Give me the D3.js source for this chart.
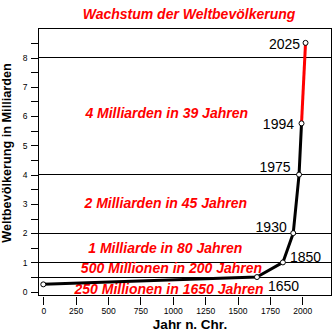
<!DOCTYPE html>
<html>
<head>
<meta charset="utf-8">
<script src="https://cdn.jsdelivr.net/npm/d3@7"></script>
<style>
  html, body { margin: 0; padding: 0; background: #fff; }
  svg { display: block; font-family: "Liberation Sans", Arial, Helvetica, sans-serif; }
</style>
</head>
<body>
<svg id="chart" width="334" height="333"></svg>
<script>
// ---- data ----
const years = [0, 1650, 1850, 1930, 1975, 1994, 2025];
const population = [0.25, 0.5, 1, 2, 4, 5.75, 8.5];
const labelledYears = [1650, 1850, 1930, 1975, 1994, 2025];
const gridValues = [0.5, 1, 2, 4, 8];
const xTicks = [0, 250, 500, 750, 1000, 1250, 1500, 1750, 2000];
const yTicks = [0, 0.5, 1, 1.5, 2, 2.5, 3, 3.5, 4, 4.5, 5, 5.5, 6, 6.5, 7, 7.5, 8, 8.5];
const yTickLabels = ["0", "", "1", "", "2", "", "3", "", "4", "", "5", "", "6", "", "7", "", "8", ""];
const annotationTexts = [
  "4 Milliarden in 39 Jahren",
  "2 Milliarden in 45 Jahren",
  "1 Milliarde in 80 Jahren",
  "500 Millionen in 200 Jahren",
  "250 Millionen in 1650 Jahren"
];
const annotationYears = [953, 946, 942, 990, 971];
const annotationValues = [6.1, 3.02, 1.5, 0.8, 0.09];
const titleText = "Wachstum der Weltbevölkerung";
const xTitle = "Jahr n. Chr.";
const yTitle = "Weltbevölkerung in Milliarden";

// ---- layout / style ----
const plot = { left: 38.5, right: 331.7, top: 28, bottom: 295 };
const labelPlacement = {
  1650: { dx: 11, dy: 13.6, anchor: "start" },
  1850: { dx: 7, dy: 0, anchor: "start" },
  1930: { dx: -6.5, dy: -1.2, anchor: "end" },
  1975: { dx: -8.4, dy: -2.9, anchor: "end" },
  1994: { dx: -7.5, dy: 5.6, anchor: "end" },
  2025: { dx: -5.5, dy: 5.8, anchor: "end" }
};

const svg = d3.select("#chart");
const x = d3.scaleLinear().domain([-37, 2227]).range([plot.left, plot.right]);
const y = d3.scaleLinear().domain([-0.113, 9.008]).range([plot.bottom, plot.top]);

const points = years.map((yr, i) => ({ year: yr, value: population[i] }));

// title
svg.append("text")
  .attr("x", 189).attr("y", 19)
  .attr("text-anchor", "middle")
  .attr("font-size", 14).attr("font-weight", "bold").attr("font-style", "italic")
  .attr("fill", "#ff0000")
  .text(titleText);

// grid lines
svg.append("g").selectAll("line").data(gridValues).join("line")
  .attr("x1", plot.left).attr("x2", plot.right)
  .attr("y1", d => y(d)).attr("y2", d => y(d))
  .attr("stroke", "#000").attr("stroke-width", 1)
  .attr("shape-rendering", "crispEdges");

// box
svg.append("rect")
  .attr("x", plot.left).attr("y", plot.top)
  .attr("width", plot.right - plot.left).attr("height", plot.bottom - plot.top)
  .attr("fill", "none").attr("stroke", "#000").attr("stroke-width", 1)
  .attr("shape-rendering", "crispEdges");

// y axis
const yAxis = d3.axisLeft(y).tickValues(yTicks).tickSize(8).tickPadding(3)
  .tickFormat((d, i) => yTickLabels[i]);
const gy = svg.append("g").attr("transform", `translate(${plot.left},0)`).call(yAxis);
gy.select(".domain").remove();
gy.selectAll("line").attr("shape-rendering", "crispEdges");
gy.selectAll("text").attr("font-size", 8.5).attr("font-family", "Liberation Sans, Arial, sans-serif").attr("fill", "#000");

// x axis
const xAxis = d3.axisBottom(x).tickValues(xTicks).tickSize(8).tickPadding(3)
  .tickFormat(d3.format("d"));
const gx = svg.append("g").attr("transform", `translate(0,${plot.bottom + 1.5})`).call(xAxis);
gx.select(".domain").remove();
gx.selectAll("line").attr("shape-rendering", "crispEdges");
gx.selectAll("text").attr("font-size", 8.5).attr("font-family", "Liberation Sans, Arial, sans-serif").attr("fill", "#000");

// axis titles
svg.append("text")
  .attr("x", 190).attr("y", 329)
  .attr("text-anchor", "middle")
  .attr("font-size", 13.5).attr("font-weight", "bold")
  .text(xTitle);
svg.append("text")
  .attr("transform", "translate(10.6,153) rotate(-90)")
  .attr("text-anchor", "middle")
  .attr("font-size", 12.7).attr("font-weight", "bold")
  .text(yTitle);

// annotations
svg.append("g").selectAll("text").data(annotationTexts).join("text")
  .attr("x", (d, i) => x(annotationYears[i]))
  .attr("y", (d, i) => y(annotationValues[i]))
  .attr("dy", "0.35em")
  .attr("text-anchor", "middle")
  .attr("font-size", 14).attr("font-weight", "bold").attr("font-style", "italic")
  .attr("fill", "#ff0000")
  .text(d => d);

// lines
const line = d3.line().x(d => x(d.year)).y(d => y(d.value));
const splitIndex = years.indexOf(1994);
svg.append("path")
  .datum(points.slice(0, splitIndex + 1))
  .attr("d", line)
  .attr("fill", "none").attr("stroke", "#000").attr("stroke-width", 3)
  .attr("stroke-linejoin", "round");
svg.append("path")
  .datum(points.slice(splitIndex))
  .attr("d", line)
  .attr("fill", "none").attr("stroke", "#ff0000").attr("stroke-width", 3)
  .attr("stroke-linejoin", "round");

// points
svg.append("g").selectAll("circle").data(points).join("circle")
  .attr("cx", d => x(d.year)).attr("cy", d => y(d.value))
  .attr("r", 2.5)
  .attr("fill", "#fff").attr("stroke", "#000").attr("stroke-width", 1);

// point labels
svg.append("g").selectAll("text").data(points.filter(p => labelledYears.includes(p.year))).join("text")
  .attr("x", d => x(d.year) + labelPlacement[d.year].dx)
  .attr("y", d => y(d.value) + labelPlacement[d.year].dy)
  .attr("text-anchor", d => labelPlacement[d.year].anchor)
  .attr("font-size", 14)
  .attr("fill", "#000")
  .text(d => d.year);
</script>
</body>
</html>
